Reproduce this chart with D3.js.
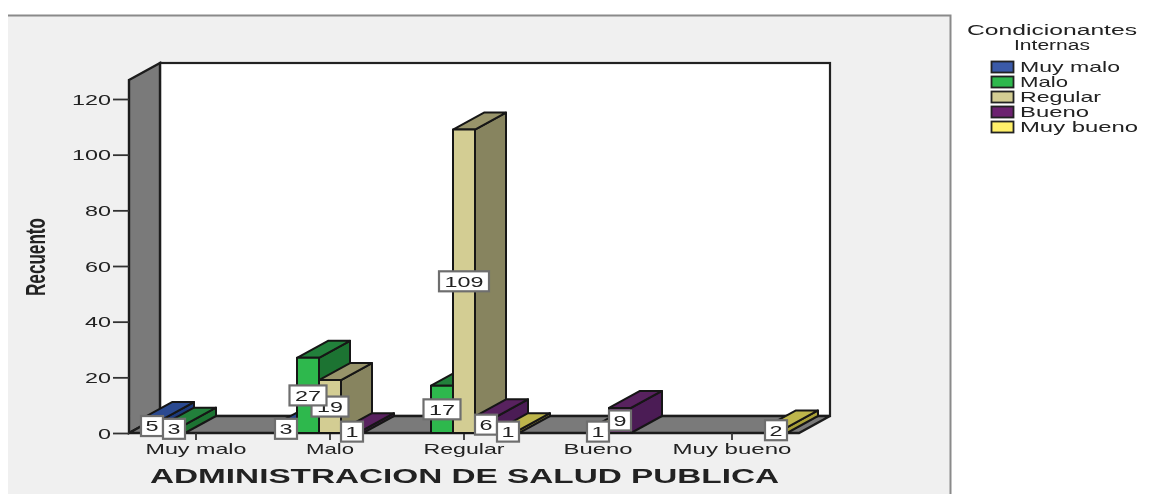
<!DOCTYPE html>
<html><head><meta charset="utf-8">
<script src="https://cdn.jsdelivr.net/npm/d3@7"></script>
<style>html,body{margin:0;padding:0;background:#fff}svg{display:block}text{font-family:"Liberation Sans",Arial,sans-serif;fill:#222}</style>
</head><body><svg id="c" width="1168" height="494"></svg>
<script>
const categories = ["Muy malo","Malo","Regular","Bueno","Muy bueno"];
const seriesNames = ["Muy malo","Malo","Regular","Bueno","Muy bueno"];
const muyMalo = [5,3,0,0,0];
const malo = [3,27,19,1,0];
const regular = [0,17,109,6,1];
const bueno = [0,0,1,9,0];
const muyBueno = [0,0,0,0,2];
const yTicks = [0,20,40,60,80,100,120];
const frontColors = ["#3a5aa8","#2db84d","#d3cd93","#6c2070","#fff06a"];
const sideColors = ["#1f3a7c","#1f7330","#87845f","#4c1a55","#a8a038"];
const topColors = ["#2a4a90","#23803a","#98946a","#58205e","#bdb54c"];
const groups = [muyMalo,malo,regular,bueno,muyBueno];

const svg = d3.select("#c");
const DX = 31, DY = -17;
const x0 = d3.scaleBand().domain(categories).range([129,799]);
const y = d3.scaleLinear().domain([0,120]).range([433,99]);
const bw = 22;
const x1 = d3.scaleBand().domain(d3.range(5)).range([x0.bandwidth()/2-55, x0.bandwidth()/2+55]);
const root = svg.append("g").attr("filter","url(#soft)");
svg.append("defs").append("filter").attr("id","soft").attr("x",0).attr("y",0).attr("width",1).attr("height",1)
  .append("feGaussianBlur").attr("stdDeviation",0.6);

root.append("rect").attr("width",1168).attr("height",494).attr("fill","#fff");
root.append("rect").attr("x",8).attr("y",15).attr("width",942).attr("height",479).attr("fill","#f0f0f0");
root.append("path").attr("d","M8,15.5H950.5V494").attr("fill","none").attr("stroke","#8a8a8a").attr("stroke-width",2);

const pts = p => p.map(d=>d.join(",")).join(" ");
const xL = x0.range()[0], xR = x0.range()[1], y0 = y(0);
const backTop = 63, frontTop = 80;
root.append("rect").attr("x",xL+DX).attr("y",backTop).attr("width",xR-xL).attr("height",y0+DY-backTop)
  .attr("fill","#fff").attr("stroke","#222").attr("stroke-width",2.2);
root.append("polygon").attr("points",pts([[xL,frontTop],[xL+DX,backTop],[xL+DX,y0+DY],[xL,y0]]))
  .attr("fill","#7a7a7a").attr("stroke","#1c1c1c").attr("stroke-width",2.4);
root.append("polygon").attr("points",pts([[xL,y0],[xL+DX,y0+DY],[xR+DX,y0+DY],[xR,y0]]))
  .attr("fill","#7a7a7a").attr("stroke","#1c1c1c").attr("stroke-width",2.4);

// axes
const yAxis = d3.axisLeft(y).tickValues(yTicks).tickSize(16).tickPadding(2);
const gy = root.append("g").attr("transform",`translate(${xL},0)`).call(yAxis);
gy.select(".domain").remove();
gy.selectAll("line").attr("stroke","#333").attr("stroke-width",1.8);
gy.selectAll("text").attr("font-size",15).attr("fill","#222").attr("dy","0.35em")
  .attr("textLength",d=>String(d).length*13).attr("lengthAdjust","spacingAndGlyphs");

const xAxis = d3.axisBottom(x0).tickSize(7).tickPadding(3);
const gx = root.append("g").attr("transform",`translate(0,${y0})`).call(xAxis);
gx.select(".domain").remove();
gx.selectAll("line").attr("stroke","#333").attr("stroke-width",1.8);
const xLen = {"Muy malo":101,"Malo":48,"Regular":81,"Bueno":69,"Muy bueno":119};
gx.selectAll("text").attr("font-size",15).attr("fill","#222")
  .attr("y",10).attr("dy","0.71em")
  .attr("textLength",d=>xLen[d]).attr("lengthAdjust","spacingAndGlyphs");

// bars
const bars = [];
groups.forEach((g,c)=>g.forEach((v,s)=>{ if(v>0) bars.push({c,s,v}); }));
const bx = d => x0(categories[d.c]) + x1(d.s) + (x1.bandwidth()-bw)/2;
const gb = root.append("g").attr("stroke","#161616").attr("stroke-width",2).attr("stroke-linejoin","round");
bars.forEach(d=>{
  const l = bx(d), r = l+bw, t = y(d.v), b = y(0);
  gb.append("polygon").attr("points",pts([[r,t],[r+DX,t+DY],[r+DX,b+DY],[r,b]])).attr("fill",sideColors[d.s]);
  gb.append("polygon").attr("points",pts([[l,t],[l+DX,t+DY],[r+DX,t+DY],[r,t]])).attr("fill",topColors[d.s]);
  gb.append("rect").attr("x",l).attr("y",t).attr("width",bw).attr("height",b-t).attr("fill",frontColors[d.s]);
});

// value labels
const order = bars.slice().sort((a,b)=>(a.s===2?0:1)-(b.s===2?0:1));
const gl = root.append("g");
order.forEach(d=>{
  const cx = bx(d)+bw/2, cy = (y(d.v)+y(0))/2, txt = String(d.v);
  const w = txt.length===1?22:txt.length===2?37:50, h = 20;
  gl.append("rect").attr("x",cx-w/2).attr("y",cy-h/2).attr("width",w).attr("height",h)
    .attr("fill","#fff").attr("stroke","#6e6e6e").attr("stroke-width",2.2);
  gl.append("text").attr("x",cx).attr("y",cy).attr("dy","0.36em").attr("text-anchor","middle")
    .attr("font-size",15).attr("textLength",txt.length*13).attr("lengthAdjust","spacingAndGlyphs").text(txt);
});

// titles
root.append("text").attr("x",464.5).attr("y",483).attr("text-anchor","middle").attr("font-size",20)
  .attr("font-weight","bold").attr("fill","#111").attr("textLength",629).attr("lengthAdjust","spacingAndGlyphs")
  .text("ADMINISTRACION DE SALUD PUBLICA");
root.append("text").attr("transform","translate(45,257) rotate(-90)").attr("text-anchor","middle")
  .attr("font-size",27).attr("font-weight","bold").attr("fill","#111").attr("textLength",78)
  .attr("lengthAdjust","spacingAndGlyphs").text("Recuento");

// legend
root.append("text").attr("x",1052).attr("y",35).attr("text-anchor","middle").attr("font-size",14)
  .attr("textLength",170).attr("lengthAdjust","spacingAndGlyphs").text("Condicionantes");
root.append("text").attr("x",1052).attr("y",50).attr("text-anchor","middle").attr("font-size",14)
  .attr("textLength",76).attr("lengthAdjust","spacingAndGlyphs").text("Internas");
const legLen = [100,48,81,69,118];
const ly = d3.scalePoint().domain(seriesNames).range([67,127]);
seriesNames.forEach((n,i)=>{
  root.append("rect").attr("x",991.5).attr("y",ly(n)-5.5).attr("width",22).attr("height",11)
    .attr("fill",frontColors[i]).attr("stroke","#222").attr("stroke-width",1.8);
  root.append("text").attr("x",1020).attr("y",ly(n)+5).attr("font-size",15)
    .attr("textLength",legLen[i]).attr("lengthAdjust","spacingAndGlyphs").text(n);
});
</script></body></html>
